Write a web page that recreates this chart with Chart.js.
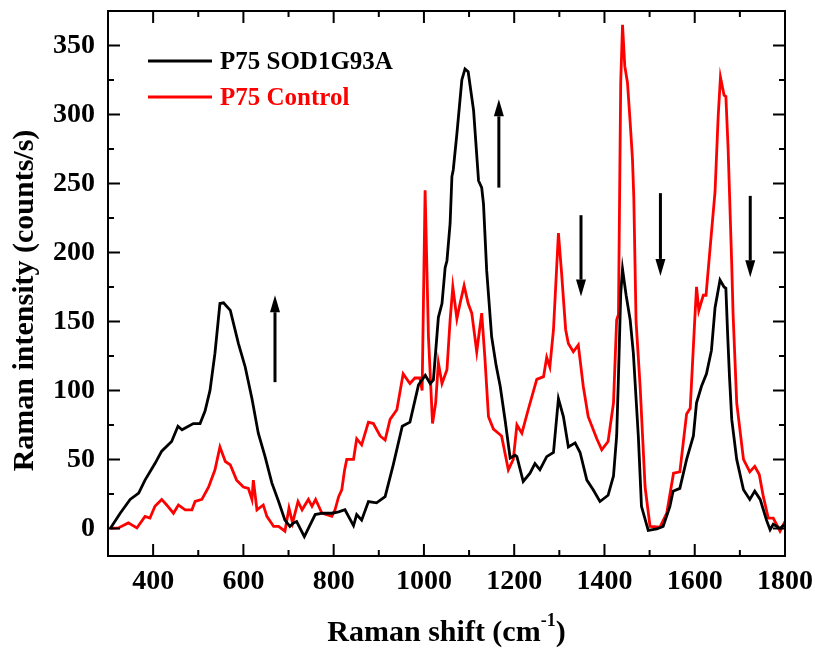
<!DOCTYPE html>
<html>
<head>
<meta charset="utf-8">
<script src="https://cdn.jsdelivr.net/npm/chart.js@4.4.1/dist/chart.umd.min.js"></script>
<style>
  html, body { margin: 0; padding: 0; background: #fff; }
  #wrap { width: 815px; height: 648px; }
</style>
</head>
<body>
<div id="wrap"><canvas id="ramanChart" width="815" height="648"></canvas></div>
<script>
// P75 SOD1G93A spectrum (black)
const sodShift = [305, 327, 349, 368, 382, 404, 419, 441, 455, 464, 489, 504, 515, 526, 537, 548, 556, 571, 589, 604,
  619, 633, 648, 663, 678, 692, 703, 711, 718, 735, 759, 775, 796, 811, 825, 844, 851, 862, 877, 895,
  914, 932, 952, 969, 988, 1003, 1014, 1021, 1032, 1040, 1047, 1051, 1058, 1062, 1065, 1073, 1084, 1091, 1098, 1110,
  1121, 1128, 1132, 1139, 1150, 1160, 1169, 1180, 1191, 1202, 1206, 1220, 1235, 1246, 1257, 1272, 1287, 1298, 1309, 1320,
  1335, 1346, 1361, 1375, 1390, 1408, 1420, 1427, 1431, 1436, 1440, 1448, 1457, 1464, 1475, 1482, 1497, 1516, 1530, 1545,
  1552, 1567, 1582, 1597, 1604, 1615, 1626, 1637, 1645, 1656, 1665, 1669, 1673, 1677, 1682, 1693, 1708, 1722, 1733, 1745,
  1759, 1767, 1774, 1789, 1800];
const sodIntensity = [0, 11, 21, 25.6, 35, 47, 56, 63, 74, 71.5, 76, 76, 85, 100, 127, 163, 163.5, 158, 134, 117,
  94, 69, 52, 33, 19.5, 6, 1.4, 4, 5, -6, 10, 11, 11, 12, 13.5, 2, 10, 6, 19.5, 18.5,
  23, 46, 74, 77, 104, 111, 105, 107.6, 153, 163, 189, 194, 221, 255, 260, 286, 325, 333, 331, 303,
  252, 247, 235, 187, 139, 118, 103, 78, 51, 53, 52, 34, 40, 47, 42.5, 52, 55, 94, 81, 59,
  62, 55, 35, 28, 19.5, 24, 38, 67, 110, 170, 188, 169, 151, 127, 67, 16, -1.4, -0.4, 1.4, 16,
  27, 29, 50, 67, 91, 103, 112, 129, 160, 180, 175, 174, 140, 110, 79, 50, 28, 21, 27, 21,
  6, -1, 3, 0, 3];

// P75 Control spectrum (red)
const ctlShift = [305, 323, 345, 364, 382, 393, 404, 419, 430, 445, 456, 471, 486, 493, 508, 523, 537, 548, 560, 571,
  585, 600, 611, 619, 622, 630, 644, 652, 667, 678, 692, 701, 709, 721, 730, 744, 752, 760, 774, 796,
  803, 811, 818, 824, 829, 844, 851, 862, 877, 888, 903, 914, 925, 940, 954, 969, 980, 991, 996, 1002.6,
  1010, 1019, 1026, 1032, 1040, 1051, 1058, 1064, 1073, 1080, 1089, 1098, 1106, 1117, 1128, 1135, 1143, 1154, 1165, 1172,
  1187, 1198, 1206, 1217, 1231, 1250, 1265, 1272, 1279, 1287, 1298, 1305, 1314, 1320, 1331, 1342, 1353, 1364, 1383, 1394,
  1408, 1420, 1427, 1431, 1436, 1440, 1445, 1451, 1457, 1462, 1465, 1470, 1479, 1490, 1501, 1523, 1538, 1553, 1567, 1582,
  1590, 1600, 1604, 1609, 1619, 1625, 1634, 1645, 1652, 1657, 1665, 1669, 1674, 1682, 1685, 1693, 1708, 1722, 1733, 1743,
  1752, 1763, 1774, 1789, 1800];
const ctlIntensity = [0, 0.3, 4, 0.3, 8.7, 7.5, 16, 21, 17, 11, 17, 13.5, 13.5, 19.5, 21, 30, 42.5, 59, 48.5, 46,
  35, 30, 29, 21, 35, 13.5, 17, 8.7, 1.4, 1.4, -2, 14.7, 4, 19.5, 13.5, 21, 16, 21, 11, 8.7,
  13.5, 23, 28, 42, 50, 50, 65, 60.6, 77, 76, 67, 64, 79, 86, 112, 105, 109, 109, 100, 245,
  139, 76, 91, 120, 105, 115, 151, 175, 152, 163, 176, 163, 156, 128, 156, 124, 81, 72, 69, 67,
  42.5, 50, 75, 69, 86, 108, 110, 124, 117, 144, 214, 185, 144, 134, 128, 133, 103, 81, 65, 57,
  63, 91, 151, 155, 323, 365, 335, 323, 294, 268, 240, 150, 103, 30, 1.4, 1, 11, 40, 41, 83,
  87, 151, 175, 158, 169, 169, 203, 244, 299, 327, 314, 313, 275, 191, 155, 91, 50, 41, 45, 39,
  23, 7.5, 7.5, -2, 5];

const seriesLabels = ['P75 SOD1G93A', 'P75 Control'];
const seriesColors = ['#000000', '#ff0000'];

// axis ticks
const xTicks = [400, 600, 800, 1000, 1200, 1400, 1600, 1800];
const xMinor = [500, 700, 900, 1100, 1300, 1500, 1700];
const yTicks = [0, 50, 100, 150, 200, 250, 300, 350];
const yMinor = [25, 75, 125, 175, 225, 275, 325];

// change arrows: shift, tail intensity, tip intensity
const arrowShift = [670, 1166, 1348, 1524, 1723];
const arrowFrom = [106, 247, 227, 243, 241];
const arrowTo = [169, 311, 168, 183, 182];

const FONT = "'Liberation Serif', 'Times New Roman', serif";

function toPoints(xs, ys) {
  return xs.map((v, i) => ({ x: v, y: ys[i] }));
}

// frame, inward ticks, arrows, legend and axis titles
const decorPlugin = {
  id: 'decor',
  afterDatasetsDraw(chart) {
    const { ctx, chartArea: a, scales: { x, y } } = chart;
    ctx.save();
    ctx.strokeStyle = '#000';
    ctx.fillStyle = '#000';

    // ticks on all four sides
    ctx.lineWidth = 2;
    ctx.beginPath();
    const xt = (v, len) => {
      const px = x.getPixelForValue(v);
      ctx.moveTo(px, a.bottom); ctx.lineTo(px, a.bottom - len);
      ctx.moveTo(px, a.top); ctx.lineTo(px, a.top + len);
    };
    const yt = (v, len) => {
      const py = y.getPixelForValue(v);
      ctx.moveTo(a.left, py); ctx.lineTo(a.left + len, py);
      ctx.moveTo(a.right, py); ctx.lineTo(a.right - len, py);
    };
    xTicks.forEach(v => xt(v, 12));
    xMinor.forEach(v => xt(v, 6));
    yTicks.forEach(v => yt(v, 12));
    yMinor.forEach(v => yt(v, 6));
    ctx.stroke();
    ctx.strokeRect(a.left, a.top, a.right - a.left, a.bottom - a.top);

    // arrows
    arrowShift.forEach((s, i) => {
      const px = x.getPixelForValue(s);
      const p0 = y.getPixelForValue(arrowFrom[i]);
      const p1 = y.getPixelForValue(arrowTo[i]);
      const dir = p1 < p0 ? -1 : 1;
      const head = 17;
      ctx.lineWidth = 3;
      ctx.beginPath();
      ctx.moveTo(px, p0);
      ctx.lineTo(px, p1 - dir * head);
      ctx.stroke();
      ctx.beginPath();
      ctx.moveTo(px, p1);
      ctx.lineTo(px - 5, p1 - dir * head);
      ctx.lineTo(px + 5, p1 - dir * head);
      ctx.closePath();
      ctx.fill();
    });

    // legend
    ctx.font = 'bold 25px ' + FONT;
    ctx.textBaseline = 'middle';
    ctx.textAlign = 'left';
    seriesLabels.forEach((lab, i) => {
      const ly = a.top + 50 + i * 36;
      ctx.strokeStyle = seriesColors[i];
      ctx.lineWidth = 2.8;
      ctx.beginPath();
      ctx.moveTo(a.left + 40, ly);
      ctx.lineTo(a.left + 104, ly);
      ctx.stroke();
      ctx.fillStyle = seriesColors[i];
      ctx.fillText(lab, a.left + 112, ly + 1.5);
    });

    // y title
    ctx.fillStyle = '#000';
    ctx.font = 'bold 30px ' + FONT;
    ctx.save();
    ctx.translate(25, (a.top + a.bottom) / 2 + 17);
    ctx.rotate(-Math.PI / 2);
    ctx.textAlign = 'center';
    ctx.fillText('Raman intensity (counts/s)', 0, 0);
    ctx.restore();

    // x title with superscript
    const main = 'Raman shift (cm';
    ctx.font = 'bold 30px ' + FONT;
    const w1 = ctx.measureText(main).width;
    const w3 = ctx.measureText(')').width;
    ctx.font = 'bold 18px ' + FONT;
    const w2 = ctx.measureText('-1').width;
    const total = w1 + w2 + w3;
    let tx = (a.left + a.right) / 2 - total / 2;
    const ty = 633;
    ctx.textAlign = 'left';
    ctx.font = 'bold 30px ' + FONT;
    ctx.fillText(main, tx, ty);
    ctx.font = 'bold 18px ' + FONT;
    ctx.fillText('-1', tx + w1, ty - 12);
    ctx.font = 'bold 30px ' + FONT;
    ctx.fillText(')', tx + w1 + w2, ty);
    ctx.restore();
  }
};

new Chart(document.getElementById('ramanChart'), {
  type: 'line',
  data: {
    datasets: [
      {
        label: seriesLabels[0],
        data: toPoints(sodShift, sodIntensity),
        borderColor: seriesColors[0],
        borderWidth: 2.8,
        pointRadius: 0,
        tension: 0,
        fill: false
      },
      {
        label: seriesLabels[1],
        data: toPoints(ctlShift, ctlIntensity),
        borderColor: seriesColors[1],
        borderWidth: 2.8,
        pointRadius: 0,
        tension: 0,
        fill: false
      }
    ]
  },
  options: {
    responsive: false,
    animation: false,
    devicePixelRatio: 1,
    layout: { padding: { top: 11, right: 30, left: 0, bottom: 0 } },
    plugins: { legend: { display: false }, tooltip: { enabled: false } },
    scales: {
      x: {
        type: 'linear',
        min: 300,
        max: 1800,
        afterBuildTicks: s => { s.ticks = xTicks.map(v => ({ value: v })); },
        afterFit: s => { s.height = 92; s.paddingLeft = 0; s.paddingRight = 0; },
        grid: { display: false, drawTicks: false },
        border: { display: false },
        ticks: {
          padding: 9,
          color: '#000',
          font: { family: FONT, size: 28, weight: 'bold' },
          maxRotation: 0,
          callback: v => String(v)
        }
      },
      y: {
        type: 'linear',
        min: -20,
        max: 375,
        afterBuildTicks: s => { s.ticks = yTicks.map(v => ({ value: v })); },
        afterFit: s => { s.width = 108; s.paddingTop = 0; s.paddingBottom = 0; },
        grid: { display: false, drawTicks: false },
        border: { display: false },
        ticks: {
          padding: 13,
          color: '#000',
          font: { family: FONT, size: 28, weight: 'bold' },
          callback: v => String(v)
        }
      }
    }
  },
  plugins: [decorPlugin]
});
</script>
</body>
</html>
